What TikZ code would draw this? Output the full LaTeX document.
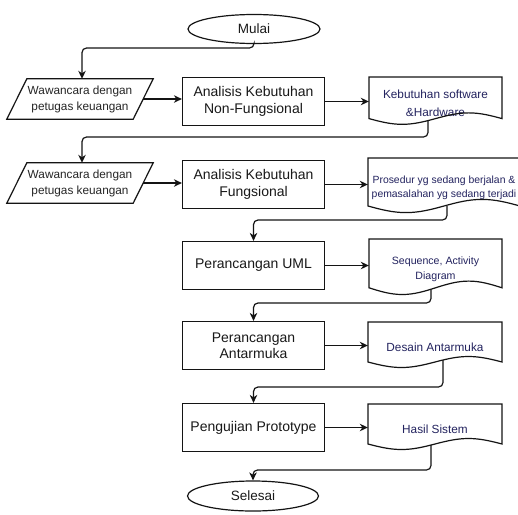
\documentclass[tikz,border=0pt]{standalone}
\usepackage{fontspec}
\setmainfont{Liberation Sans}
\usetikzlibrary{shapes.geometric,arrows.meta,calc}
\definecolor{doctext}{RGB}{35,35,95}
\definecolor{linec}{RGB}{20,20,20}
\tikzset{
  shapeline/.style={draw=linec, line width=1.2pt},
  conn/.style={draw=linec, line width=1.2pt, rounded corners=4.5pt,
    -{Stealth[length=8pt,width=7.5pt,inset=2.5pt]}},
  procbox/.style={rectangle, shapeline, minimum width=142pt, minimum height=48pt,
    align=center, inner sep=1pt, text=black!90, font=\fontsize{14}{16.5}\selectfont},
  termbox/.style={ellipse, shapeline, minimum width=132pt, minimum height=29pt,
    inner sep=0pt, text=black!90, font=\fontsize{13.5}{16}\selectfont},
  iobox/.style={rectangle, draw=none, minimum width=146pt, minimum height=40pt,
    align=center, inner sep=0pt, text=black!85, font=\fontsize{11.8}{16}\selectfont},
  docbox/.style={rectangle, draw=none, align=center, inner sep=0pt, text=doctext},
}
% document shape: name, x left, y top, width, height, font, text
\newcommand{\docnode}[7]{%
  \node[docbox, minimum width=#4pt, minimum height=#5pt, font=#6] (#1) at ({#2+#4/2},{#3+#5/2}) {#7};
  \draw[shapeline] (#2,#3) -- ({#2+#4},#3) -- ({#2+#4},{#3+0.8*#5})
    sin ({#2+0.75*#4},{#3+0.69*#5}) cos ({#2+0.5*#4},{#3+0.8*#5})
    sin ({#2+0.25*#4},{#3+0.91*#5}) cos (#2,{#3+0.8*#5}) -- cycle;
}
\newcommand{\iodraw}[1]{%
  \draw[shapeline] ([xshift=20pt]#1.north west) -- (#1.north east)
    -- ([xshift=-20pt]#1.south east) -- (#1.south west) -- cycle;
}
\begin{document}
\begin{tikzpicture}[x=1pt,y=-1pt]
  \useasboundingbox[fill=white] (0,0) rectangle (518,514);
  \clip (0,0) rectangle (518,514);

  % terminals
  \node[termbox] (mulai) at (254,29) {Mulai};
  \node[termbox, minimum width=131pt, minimum height=30pt] (selesai) at (253,496) {Selesai};

  % input/output parallelograms
  \node[iobox] (par1) at (80,99) {Wawancara dengan\\petugas keuangan};
  \iodraw{par1}
  \node[iobox] (par2) at (80,183) {Wawancara dengan\\petugas keuangan};
  \iodraw{par2}

  % process boxes
  \node[procbox] (rect1) at (253.5,101.5) {Analisis Kebutuhan\\Non-Fungsional};
  \node[procbox] (rect2) at (253.5,184.5) {Analisis Kebutuhan\\Fungsional};
  \node[procbox] (rect3) at (253.5,265.5) {Perancangan UML};
  \node[procbox] (rect4) at (253.5,345.5) {Perancangan\\Antarmuka};
  \node[procbox] (rect5) at (253.5,427.5) {Pengujian Prototype};

  % documents
  \docnode{doc1}{369}{77}{133}{52}{\fontsize{11.8}{18}\selectfont}{Kebutuhan software\\\&Hardware}
  \docnode{doc2}{368}{158}{152}{60}{\fontsize{10.4}{13.5}\selectfont}{Prosedur yg sedang berjalan \&\\pemasalahan yg sedang terjadi}
  \docnode{doc3}{369}{239}{133}{61}{\fontsize{10.6}{15}\selectfont}{Sequence, Activity\\Diagram}
  \docnode{doc4}{368}{322}{134}{50}{\fontsize{11.8}{14}\selectfont}{Desain Antarmuka}
  \docnode{doc5}{368}{404}{134}{50}{\fontsize{11.8}{14}\selectfont}{Hasil Sistem}

  % horizontal connectors
  \draw[conn] ([xshift=-10pt]par1.east) -- (rect1.west |- par1.east);
  \draw[conn] (rect1.east) -- (doc1.west |- rect1.east);
  \draw[conn] ([xshift=-10pt]par2.east) -- (rect2.west |- par2.east);
  \draw[conn] (rect2.east) -- (doc2.west |- rect2.east);
  \draw[conn] (rect3.east) -- (doc3.west |- rect3.east);
  \draw[conn] (rect4.east) -- (doc4.west |- rect4.east);
  \draw[conn] (rect5.east) -- (doc5.west |- rect5.east);

  % exit points on the document waves
  \coordinate (o1) at ([xshift=-7.5pt,yshift=8.4pt]doc1.south);
  \coordinate (o2) at ([xshift=3pt,yshift=12.3pt]doc2.south);
  \coordinate (o3) at ([xshift=-4.5pt,yshift=10.8pt]doc3.south);
  \coordinate (o4) at ([xshift=8pt,yshift=12pt]doc4.south);
  \coordinate (o5) at ([xshift=-4pt,yshift=9pt]doc5.south);

  % flow connectors
  \draw[conn] (mulai.south) -- (mulai.south |- 0,48) -| ([xshift=2pt]par1.north);
  \draw[conn] (o1) -- (o1 |- 0,137) -| ([xshift=2pt]par2.north);
  \draw[conn] (o2) -- (o2 |- 0,220) -| (rect3.north);
  \draw[conn] (o3) -- (o3 |- 0,303) -| (rect4.north);
  \draw[conn] (o4) -- (o4 |- 0,387) -| (rect5.north);
  \draw[conn] (o5) -- (o5 |- 0,470) -| (selesai.north);
\end{tikzpicture}
\end{document}
